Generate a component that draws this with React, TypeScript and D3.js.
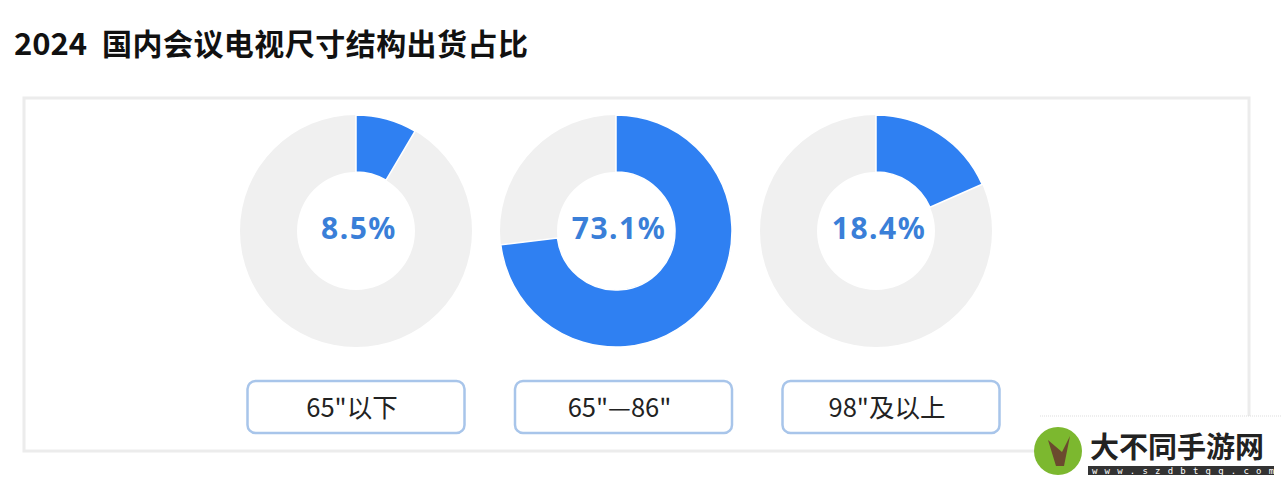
import React from "react";
import * as d3 from "d3";

const titleYear = "2024";
const titleText = "国内会议电视尺寸结构出货占比";
const categories = ['65"以下', '65"—86"', '98"及以上'];
const shares = [8.5, 73.1, 18.4];
const valueLabels = ["8.5%", "73.1%", "18.4%"];

const W = 1282;
const H = 479;

export default function App() {
  const x = d3.scalePoint<string>().domain(categories).range([356, 876]);
  const xBox = d3.scalePoint<string>().domain(categories).range([356, 891]);
  const angle = d3.scaleLinear().domain([0, 100]).range([0, 2 * Math.PI]);
  const outerR = 116;
  const innerR = 59;
  const arc = d3.arc<any>().innerRadius(innerR).outerRadius(outerR);
  const cy = 231;

  return (
    <svg width={W} height={H} style={{ position: "absolute", left: 0, top: 0, background: "#fff" }}>
      <rect x={0} y={0} width={W} height={H} fill="#fff" />
      <text x={14} y={55} fontFamily="'Noto Sans CJK SC', 'Noto Sans', sans-serif" fontWeight={700} fontSize={31} fill="#111">
        {titleYear}
      </text>
      <text x={102} y={55} fontFamily="'Noto Sans CJK SC', 'Noto Sans', sans-serif" fontWeight={700} fontSize={30} fill="#111" textLength={426}>
        {titleText}
      </text>
      <rect x={24} y={98} width={1225} height={353} fill="#fff" stroke="#ececec" strokeWidth={3} />
      {categories.map((c, i) => {
        const cx = x(c)!;
        const bx = xBox(c)!;
        const full = arc({ startAngle: 0, endAngle: 2 * Math.PI });
        const part = arc({ startAngle: 0, endAngle: angle(shares[i]) });
        return (
          <g key={c}>
            <g transform={`translate(${cx},${cy})`}>
              <path d={full || ""} fill="#f0f0f0" />
              <path d={part || ""} fill="#2f80f2" stroke="#fff" strokeWidth={1.5} />
              <text textAnchor="middle" x={3} y={8} fontFamily="'Noto Sans', 'Open Sans', sans-serif" fontWeight={700} fontSize={30} letterSpacing={1.5} fill="#3a7fd8">
                {valueLabels[i]}
              </text>
            </g>
            <rect x={bx - 108.5} y={381} width={217} height={52} rx={8} ry={8} fill="#fff" stroke="#a8c5ea" strokeWidth={2.5} />
            <text x={bx - 4} y={417} textAnchor="middle" fontFamily="'Noto Sans CJK SC', 'Noto Sans', sans-serif" fontSize={25.5} fill="#222">
              {c}
            </text>
          </g>
        );
      })}
      {/* watermark */}
      <rect x={1040} y={416} width={242} height={63} fill="#fff" />
      <line x1={1040} y1={416} x2={1282} y2={416} stroke="#ddd" strokeWidth={1} strokeDasharray="1,1" />
      <circle cx={1058} cy={451} r={24} fill="#7cb82f" />
      <path d="M1048,440 L1056,466 L1064,466 L1070,436 L1062,452 Z" fill="#6b4a2e" />
      <text x={1090} y={458} fontFamily="'Noto Sans CJK SC', sans-serif" fontWeight={700} fontSize={29} fill="#222">
        大不同手游网
      </text>
      <rect x={1088} y={466} width={186} height={9} fill="#333" />
      <text x={1092} y={474} fontFamily="'DejaVu Sans Mono', monospace" fontSize={9} fill="#fff" letterSpacing={7.2}>
        www.szdbtgg.com
      </text>
    </svg>
  );
}
